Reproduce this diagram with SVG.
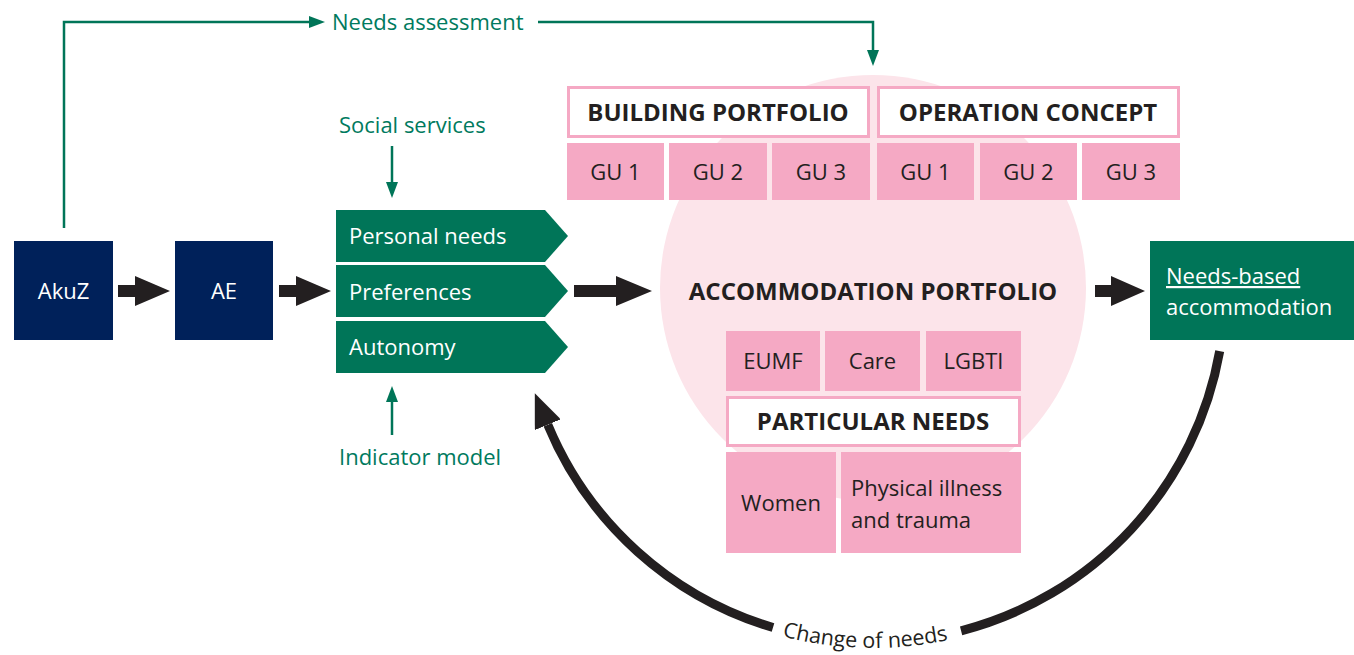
<svg xmlns="http://www.w3.org/2000/svg" width="1354" height="655" viewBox="0 0 1354 655">
<defs>
<style>
.t{font-family:"Open Sans","Liberation Sans",sans-serif;font-size:22px}
.b{font-family:"Open Sans","Liberation Sans",sans-serif;font-size:24px;font-weight:bold;fill:#231f20}
.g{fill:#007a5e}
.w{fill:#ffffff}
.k{fill:#231f20}
.navy{fill:#00215a}
.green{fill:#007558}
.pink{fill:#f5a9c4}
.wb{fill:#ffffff;stroke:#f5a9c4;stroke-width:3}
.gl{fill:none;stroke:#007558;stroke-width:2.5}
.blk{fill:#231f20}
.arc{fill:none;stroke:#231f20;stroke-width:9}
</style>
<marker id="ga" viewBox="0 0 16 12" refX="0" refY="6" markerWidth="16" markerHeight="12" markerUnits="userSpaceOnUse" orient="auto">
<path d="M0,0 L16,6 L0,12 Z" fill="#007558"/>
</marker>
<marker id="ba" viewBox="0 0 34 28" refX="0" refY="14" markerWidth="34" markerHeight="28" markerUnits="userSpaceOnUse" orient="auto">
<path d="M0,0 L34,14 L0,28 Z" fill="#231f20"/>
</marker>
<path id="tp" d="M619.9,543.1 A358,358 0 0 0 1126.1,543.1"/>
</defs>

<circle id="portfolio-circle" cx="873" cy="288" r="213" fill="#fce4ea"/>

<g id="connectors">
<path class="gl" d="M64,228 V22 H309" marker-end="url(#ga)"/>
<path class="gl" d="M538,22 H873 V50" marker-end="url(#ga)"/>
<path class="gl" d="M392,146 V182" marker-end="url(#ga)"/>
<path class="gl" d="M392,435 V402" marker-end="url(#ga)"/>
<path class="blk" d="M118,285 H135 V276 L170,291 L135,306 V297 H118 Z"/>
<path class="blk" d="M279,285 H296 V276 L331,291 L296,306 V297 H279 Z"/>
<path class="blk" d="M574,285 H616 V276 L652,291 L616,306 V297 H574 Z"/>
<path class="blk" d="M1095,285 H1111 V276 L1145,291 L1111,306 V297 H1095 Z"/>
<path class="arc" d="M1219.7,351.1 A352,352 0 0 1 961.1,630.8"/>
<path class="arc" d="M773,627.5 A352,352 0 0 1 547.8,424.7" marker-end="url(#ba)"/>
<text class="t k" style="font-size:21.5px"><textPath href="#tp" startOffset="273" text-anchor="middle">Change of needs</textPath></text>
</g>

<text class="t g" x="332" y="30">Needs assessment</text>
<text class="t g" x="339" y="133">Social services</text>
<text class="t g" x="339" y="465">Indicator model</text>

<g id="akuz">
<rect class="navy" x="14" y="241" width="99" height="99"/>
<text class="t w" x="63.5" y="299" text-anchor="middle">AkuZ</text>
</g>
<g id="ae">
<rect class="navy" x="175" y="241" width="98" height="99"/>
<text class="t w" x="224" y="299" text-anchor="middle">AE</text>
</g>

<g id="personal-needs">
<path class="green" d="M336,210 H545 L568,236 L545,262 H336 Z"/>
<text class="t w" x="349" y="244">Personal needs</text>
</g>
<g id="preferences">
<path class="green" d="M336,265 H545 L568,291 L545,317 H336 Z"/>
<text class="t w" x="349" y="300">Preferences</text>
</g>
<g id="autonomy">
<path class="green" d="M336,321 H545 L568,347 L545,373 H336 Z"/>
<text class="t w" x="349" y="355">Autonomy</text>
</g>

<g id="building-portfolio">
<rect class="wb" x="568.5" y="87.5" width="300" height="49"/>
<text class="b" x="718" y="121" text-anchor="middle">BUILDING PORTFOLIO</text>
</g>
<g id="operation-concept">
<rect class="wb" x="878.5" y="87.5" width="300" height="49"/>
<text class="b" x="1028" y="121" text-anchor="middle">OPERATION CONCEPT</text>
</g>
<g id="bp-gu1"><rect class="pink" x="567" y="143" width="97" height="57"/><text class="t k" x="615.5" y="180" text-anchor="middle">GU 1</text></g>
<g id="bp-gu2"><rect class="pink" x="669" y="143" width="98" height="57"/><text class="t k" x="718" y="180" text-anchor="middle">GU 2</text></g>
<g id="bp-gu3"><rect class="pink" x="772" y="143" width="98" height="57"/><text class="t k" x="821" y="180" text-anchor="middle">GU 3</text></g>
<g id="oc-gu1"><rect class="pink" x="877" y="143" width="97" height="57"/><text class="t k" x="925.5" y="180" text-anchor="middle">GU 1</text></g>
<g id="oc-gu2"><rect class="pink" x="980" y="143" width="97" height="57"/><text class="t k" x="1028.5" y="180" text-anchor="middle">GU 2</text></g>
<g id="oc-gu3"><rect class="pink" x="1082" y="143" width="98" height="57"/><text class="t k" x="1131" y="180" text-anchor="middle">GU 3</text></g>

<g id="accommodation-portfolio">
<text class="b" x="873" y="300" text-anchor="middle">ACCOMMODATION PORTFOLIO</text>
</g>
<g id="eumf"><rect class="pink" x="726" y="331" width="94" height="60"/><text class="t k" x="773" y="369" text-anchor="middle">EUMF</text></g>
<g id="care"><rect class="pink" x="825" y="331" width="95" height="60"/><text class="t k" x="872.5" y="369" text-anchor="middle">Care</text></g>
<g id="lgbti"><rect class="pink" x="926" y="331" width="95" height="60"/><text class="t k" x="973.5" y="369" text-anchor="middle">LGBTI</text></g>
<g id="particular-needs">
<rect class="wb" x="727.5" y="397.5" width="292" height="48"/>
<text class="b" x="873" y="430" text-anchor="middle">PARTICULAR NEEDS</text>
</g>
<g id="women"><rect class="pink" x="726" y="452" width="110" height="101"/><text class="t k" x="781" y="511" text-anchor="middle">Women</text></g>
<g id="physical-illness"><rect class="pink" x="841" y="452" width="180" height="101"/><text class="t k" x="851" y="496">Physical illness</text><text class="t k" x="851" y="528">and trauma</text></g>

<g id="needs-based-accommodation">
<rect class="green" x="1150" y="241" width="204" height="99"/>
<text class="t w" x="1166" y="284" text-decoration="underline">Needs-based</text>
<text class="t w" x="1166" y="315">accommodation</text>
</g>
</svg>
